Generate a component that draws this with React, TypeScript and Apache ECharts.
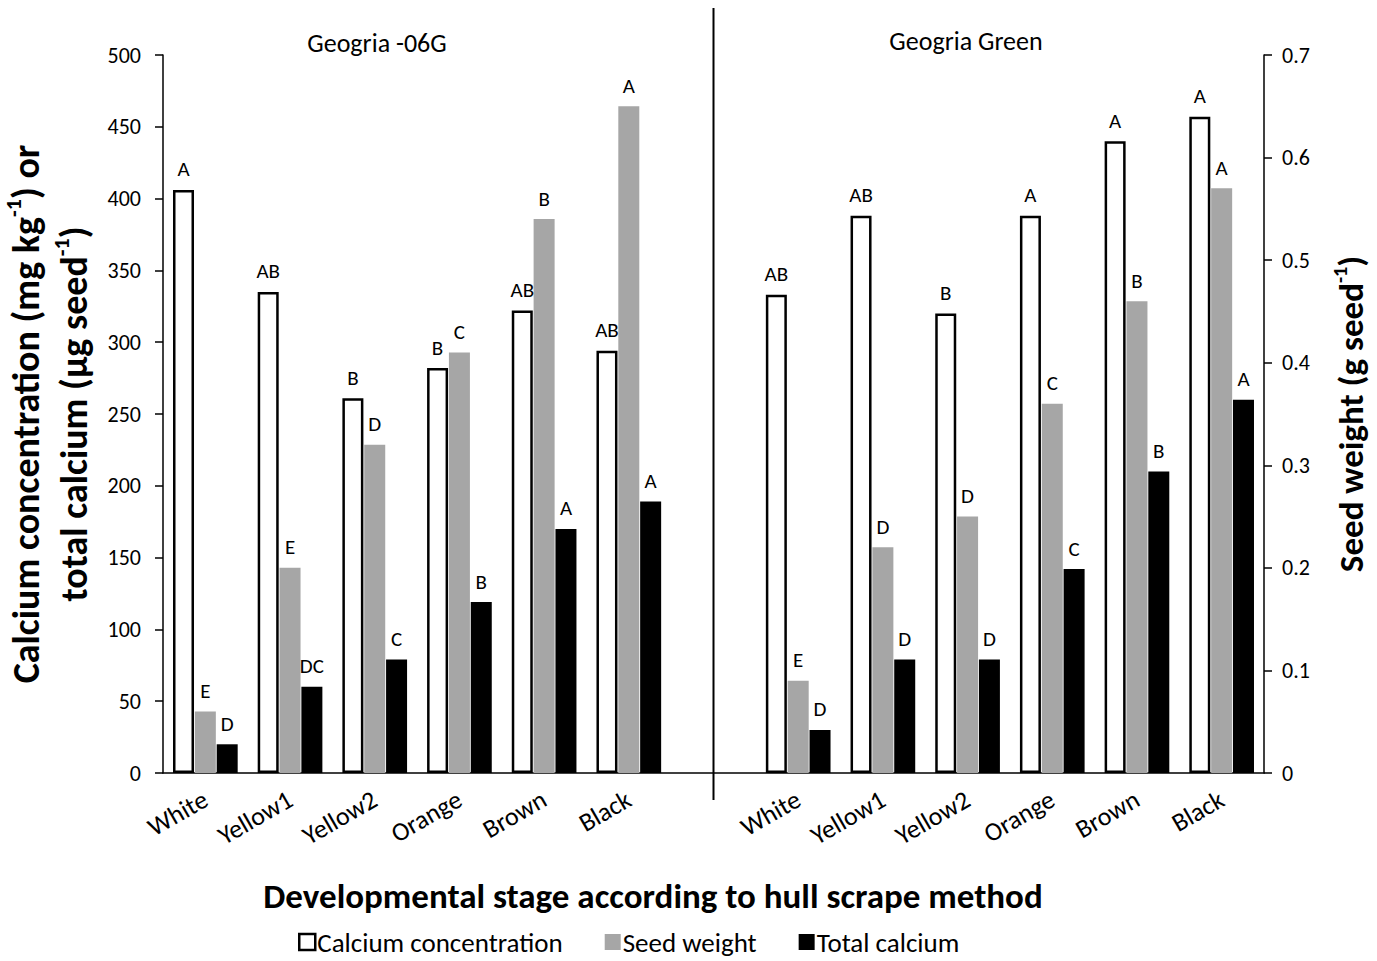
import React, { useEffect, useRef } from 'react';
import * as echarts from 'echarts';

const categories = ['White', 'Yellow1', 'Yellow2', 'Orange', 'Brown', 'Black', '', 'White', 'Yellow1', 'Yellow2', 'Orange', 'Brown', 'Black'];
const calciumConcentration = [406, 335, 261, 282, 322, 294, null, 333, 388, 320, 388, 440, 457];
const seedWeight = [0.06, 0.2, 0.32, 0.41, 0.54, 0.65, null, 0.09, 0.22, 0.25, 0.36, 0.46, 0.57];
const totalCalcium = [20, 60, 79, 119, 170, 189, null, 30, 79, 79, 142, 210, 260];
const calciumLetters = ['A', 'AB', 'B', 'B', 'AB', 'AB', '', 'AB', 'AB', 'B', 'A', 'A', 'A'];
const seedLetters = ['E', 'E', 'D', 'C', 'B', 'A', '', 'E', 'D', 'D', 'C', 'B', 'A'];
const totalLetters = ['D', 'DC', 'C', 'B', 'A', 'A', '', 'D', 'D', 'D', 'C', 'B', 'A'];
const cultivars = ['Geogria -06G', 'Geogria Green'];
const seriesNames = ['Calcium concentration', 'Seed weight', 'Total calcium'];
const leftAxisRange = [0, 500, 50];
const rightAxisRange = [0, 0.7, 0.1];

const FONT = 'Carlito, Lato, sans-serif';

export default function App() {
  const ref = useRef<HTMLDivElement>(null);
  useEffect(() => {
    if (!ref.current) return;
    const chart = echarts.init(ref.current, undefined, { renderer: 'svg' });
    const gapIndex = categories.indexOf('');
    const axisLineStyle = { color: '#000', width: 1.5 };
    const labelBase = { show: true, position: 'top' as const, distance: 10, fontSize: 21, color: '#000', fontFamily: FONT };
    const titleRich = (main: number, sup: number, lh: number, raise: number) => ({
      b: { fontSize: main, fontWeight: 'bold', lineHeight: lh, color: '#000', fontFamily: FONT },
      s: { fontSize: sup, fontWeight: 'bold', lineHeight: sup, padding: [0, 0, raise * 2, 0], color: '#000', fontFamily: FONT },
    });
    const option: any = {
      animation: false,
      backgroundColor: '#fff',
      textStyle: { fontFamily: FONT },
      title: [
        { text: cultivars[0], left: 372, top: 25, textAlign: 'center', textStyle: { fontSize: 26, fontWeight: 'normal', color: '#000', fontFamily: FONT } },
        { text: cultivars[1], left: 961, top: 23, textAlign: 'center', textStyle: { fontSize: 26, fontWeight: 'normal', color: '#000', fontFamily: FONT } },
        { text: 'Developmental stage according to hull scrape method', left: 648, top: 873, textAlign: 'center', textStyle: { fontSize: 35, fontWeight: 'bold', color: '#000', fontFamily: FONT } },
      ],
      legend: {
        data: seriesNames.map((n) => ({ name: n, icon: 'rect' })),
        left: 296,
        top: 925,
        padding: 2,
        itemWidth: 16,
        itemHeight: 16,
        itemGap: 42,
        itemStyle: { borderWidth: 'inherit' },
        textStyle: { fontSize: 27, lineHeight: 30, color: '#000', fontFamily: FONT, padding: [0, 0, 0, -3] },
      },
      grid: [
        { left: 163, right: 113, top: 55, bottom: 188, outerBoundsMode: 'none', containLabel: false },
        { left: 163, right: 113, top: 8, bottom: 161, outerBoundsMode: 'none', containLabel: false },
      ],
      xAxis: [
        {
          gridIndex: 0,
          type: 'category',
          data: categories,
          boundaryGap: true,
          axisLine: { lineStyle: axisLineStyle },
          axisTick: { length: 8, lineStyle: axisLineStyle },
          axisLabel: { rotate: 30, fontSize: 26, margin: 24, color: '#000', interval: 0, fontFamily: FONT },
          splitLine: { show: false },
        },
        { gridIndex: 1, type: 'category', data: categories, show: false },
      ],
      yAxis: [
        {
          gridIndex: 0,
          type: 'value',
          min: leftAxisRange[0],
          max: leftAxisRange[1],
          interval: leftAxisRange[2],
          axisLine: { show: true, lineStyle: axisLineStyle },
          axisTick: { show: true, length: 8, lineStyle: axisLineStyle },
          axisLabel: { fontSize: 22, color: '#000', margin: 22, fontFamily: FONT },
          splitLine: { show: false },
          name: '{b|Calcium concentration (mg kg}{s|-1}{b|) or}\n{b|total calcium (μg seed}{s|-1}{b|)}',
          nameLocation: 'middle',
          nameRotate: 90,
          nameGap: 55,
          nameTextStyle: { fontFamily: FONT, color: '#000', rich: titleRich(38, 22, 48, 12) },
        },
        {
          gridIndex: 0,
          type: 'value',
          position: 'right',
          min: rightAxisRange[0],
          max: rightAxisRange[1],
          interval: rightAxisRange[2],
          axisLine: { show: true, lineStyle: axisLineStyle },
          axisTick: { show: true, length: 8, lineStyle: axisLineStyle },
          axisLabel: { fontSize: 22, color: '#000', margin: 18, fontFamily: FONT, formatter: (v: number) => String(Number(v.toFixed(1))) },
          splitLine: { show: false },
          name: '{b|Seed weight (g seed}{s|-1}{b|)}',
          nameLocation: 'middle',
          nameRotate: 90,
          nameGap: 69,
          nameTextStyle: { fontFamily: FONT, color: '#000', rich: titleRich(35, 20, 35, 11) },
        },
        { gridIndex: 1, type: 'value', min: 0, max: 1, show: false },
      ],
      series: [
        {
          name: seriesNames[0],
          type: 'bar',
          xAxisIndex: 0,
          yAxisIndex: 0,
          data: calciumConcentration,
          barWidth: 21,
          barGap: '4%',
          itemStyle: { color: '#fff', borderColor: '#000', borderWidth: 2.5 },
          label: { ...labelBase, formatter: (p: any) => calciumLetters[p.dataIndex] },
        },
        {
          name: seriesNames[1],
          type: 'bar',
          xAxisIndex: 0,
          yAxisIndex: 1,
          data: seedWeight,
          barWidth: 21,
          barGap: '4%',
          itemStyle: { color: '#a6a6a6' },
          label: { ...labelBase, formatter: (p: any) => seedLetters[p.dataIndex] },
        },
        {
          name: seriesNames[2],
          type: 'bar',
          xAxisIndex: 0,
          yAxisIndex: 0,
          data: totalCalcium,
          barWidth: 21,
          barGap: '4%',
          itemStyle: { color: '#000' },
          label: { ...labelBase, formatter: (p: any) => totalLetters[p.dataIndex] },
        },
        {
          name: 'divider',
          type: 'line',
          xAxisIndex: 1,
          yAxisIndex: 2,
          data: [[gapIndex, 0], [gapIndex, 1]],
          showSymbol: false,
          silent: true,
          lineStyle: { color: '#000', width: 2 },
        },
      ],
    };
    chart.setOption(option);
    return () => chart.dispose();
  }, []);
  return <div ref={ref} style={{ position: 'fixed', left: 0, top: 0, width: 1377, height: 961, background: '#fff' }} />;
}
